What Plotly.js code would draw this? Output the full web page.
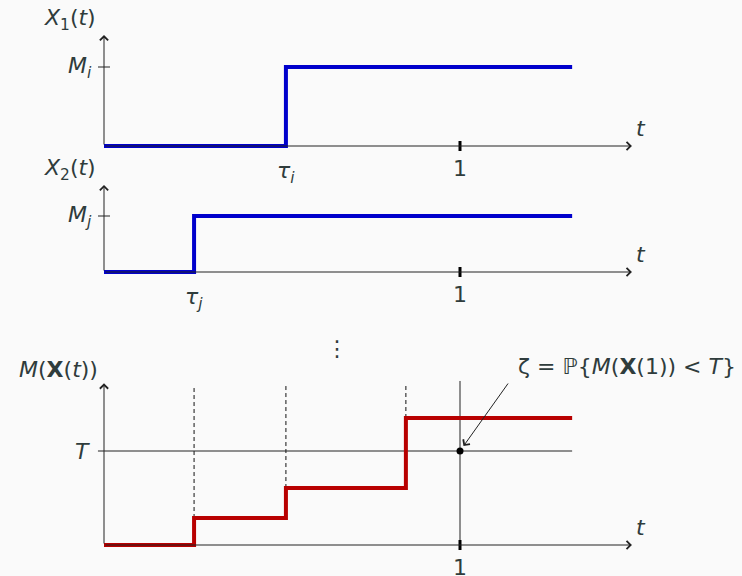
<!DOCTYPE html>
<html>
<head>
<meta charset="utf-8">
<script src="https://cdn.plot.ly/plotly-3.0.1.min.js"></script>
<style>body{margin:0;background:#fafafa}</style>
</head>
<body>
<div id="plot" style="width:742px;height:576px"></div>
<script>
// jump times, t = 1 is the horizon
var tauI = 0.511;
var tauJ = 0.253;
var tStop = 1.315;    // step curves stop here
var tAxisEnd = 1.483; // tip of the t axis

// X_1(t): 0 then M_i (M_i = 1)
var x1Times = [0, tauI, tStop];
var x1Levels = [0, 1, 1];
// X_2(t): 0 then M_j (M_j = 1)
var x2Times = [0, tauJ, tStop];
var x2Levels = [0, 1, 1];
// M(X(t)) in units of T
var mTimes = [0, tauJ, tauI, 0.848, tStop];
var mLevels = [0, 0.287, 0.606, 1.351, 1.351];
var jumpTimes = [tauJ, tauI, 0.848];
var jumpLevels = [0.287, 0.606, 1.351];
var threshold = 1;
var horizon = 1;

// axis heights (top of the arrow) per panel
var topX1 = 1.405, topX2 = 1.554, topM = 1.72;

var ink = '#222';
var txt = '#2f3c3c';
var fnt = {family: 'DejaVu Sans, Open Sans, sans-serif', size: 22, color: txt};

function yRange(basePx, unitPx) {
  return [(basePx - 576) / unitPx, basePx / unitPx];
}
function hidden(extra) {
  var a = {visible: false, showgrid: false, zeroline: false, fixedrange: true};
  for (var k in extra) a[k] = extra[k];
  return a;
}

var data = [];
// dashed guides at the jumps
jumpTimes.forEach(function (t, i) {
  data.push({x: [t, t], y: [jumpLevels[i], 1.70], yaxis: 'y3',
    mode: 'lines', line: {color: '#111', width: 1, dash: '4px,3px'}, hoverinfo: 'skip'});
});
// threshold line and horizon line
data.push({x: [-0.017, tStop], y: [threshold, threshold], yaxis: 'y3', mode: 'lines',
  line: {color: ink, width: 1}, hoverinfo: 'skip'});
data.push({x: [horizon, horizon], y: [0, 1.745], yaxis: 'y3', mode: 'lines',
  line: {color: ink, width: 1}, hoverinfo: 'skip'});
// step curves
data.push({x: x1Times, y: x1Levels, yaxis: 'y', mode: 'lines',
  line: {color: '#0000cc', width: 4, shape: 'hv'}});
data.push({x: x2Times, y: x2Levels, yaxis: 'y2', mode: 'lines',
  line: {color: '#0000cc', width: 4, shape: 'hv'}});
data.push({x: mTimes, y: mLevels, yaxis: 'y3', mode: 'lines',
  line: {color: '#b80000', width: 4, shape: 'hv'}});
// point at (1, T)
data.push({x: [horizon], y: [threshold], yaxis: 'y3', mode: 'markers',
  marker: {color: '#000', size: 7}});

function arrow(yref, x0, y0, x1, y1) {
  return {xref: 'x', yref: yref, axref: 'x', ayref: yref, x: x1, y: y1, ax: x0, ay: y0,
    text: '', showarrow: true, arrowhead: 4, arrowsize: 1.6, arrowwidth: 1, arrowcolor: ink};
}
function label(yref, x, y, text, opts) {
  var a = {xref: 'x', yref: yref, x: x, y: y, text: text, showarrow: false, font: fnt};
  for (var k in opts) a[k] = opts[k];
  return a;
}

var ann = [
  arrow('y', 0, 0, 0, topX1), arrow('y', 0, 0, tAxisEnd, 0),
  arrow('y2', 0, 0, 0, topX2), arrow('y2', 0, 0, tAxisEnd, 0),
  arrow('y3', 0, 0, 0, topM), arrow('y3', 0, 0, tAxisEnd, 0),

  label('y', 0, topX1, '<i>X</i><sub>1</sub>(<i>t</i>)', {xshift: -34, yanchor: 'bottom', yshift: -1}),
  label('y', 0, 1, '<i>M<sub>i</sub></i>', {xanchor: 'right', xshift: -10}),
  label('y', tauI, 0, '<i>τ<sub>i</sub></i>', {yanchor: 'top', yshift: -10}),
  label('y', horizon, 0, '1', {yanchor: 'top', yshift: -8}),
  label('y', tAxisEnd, 0, '<i>t</i>', {xanchor: 'left', xshift: 2, yshift: 18}),

  label('y2', 0, topX2, '<i>X</i><sub>2</sub>(<i>t</i>)', {xshift: -34, yanchor: 'bottom', yshift: -1}),
  label('y2', 0, 1, '<i>M<sub>j</sub></i>', {xanchor: 'right', xshift: -10}),
  label('y2', tauJ, 0, '<i>τ<sub>j</sub></i>', {yanchor: 'top', yshift: -10}),
  label('y2', horizon, 0, '1', {yanchor: 'top', yshift: -8}),
  label('y2', tAxisEnd, 0, '<i>t</i>', {xanchor: 'left', xshift: 2, yshift: 18}),

  {xref: 'paper', yref: 'paper', x: 337 / 742, y: 1 - 348 / 576, text: '⋮', showarrow: false, font: fnt},

  label('y3', 0, topM, '<i>M</i>(<b>X</b>(<i>t</i>))', {xshift: -46, yanchor: 'bottom', yshift: -1}),
  label('y3', 0, threshold, '<i>T</i>', {xanchor: 'right', xshift: -12}),
  label('y3', horizon, 0, '1', {yanchor: 'top', yshift: -8}),
  label('y3', tAxisEnd, 0, '<i>t</i>', {xanchor: 'left', xshift: 2, yshift: 18}),
  label('y3', 1.781, 1.894, 'ζ = ℙ{<i>M</i>(<b>X</b>(1)) &lt; <i>T</i>}', {xanchor: 'right'}),
  {xref: 'x', yref: 'y3', axref: 'x', ayref: 'y3', x: horizon, y: threshold, ax: 1.138, ay: 1.734,
    text: '', showarrow: true, arrowhead: 4, arrowsize: 1.6, arrowwidth: 1, arrowcolor: ink, standoff: 6}
];

var shapes = [
  // M_i, M_j ticks
  {type: 'line', xref: 'x', yref: 'y', xsizemode: 'pixel', xanchor: 0, x0: -6, x1: 6, y0: 1, y1: 1, line: {color: ink, width: 1}},
  {type: 'line', xref: 'x', yref: 'y2', xsizemode: 'pixel', xanchor: 0, x0: -6, x1: 6, y0: 1, y1: 1, line: {color: ink, width: 1}},
];
['y', 'y2', 'y3'].forEach(function (yr) {
  shapes.push({type: 'line', xref: 'x', yref: yr, ysizemode: 'pixel', yanchor: 0, y0: -5, y1: 5,
    x0: horizon, x1: horizon, line: {color: '#000', width: 3}});
});

var layout = {
  width: 742, height: 576,
  margin: {l: 0, r: 0, t: 0, b: 0},
  paper_bgcolor: '#fafafa', plot_bgcolor: '#fafafa',
  showlegend: false,
  xaxis: hidden({range: [-104 / 356, 638 / 356]}),
  yaxis: hidden({range: yRange(146, 79)}),
  yaxis2: hidden({range: yRange(272, 56), overlaying: 'y'}),
  yaxis3: hidden({range: yRange(545, 94), overlaying: 'y'}),
  annotations: ann,
  shapes: shapes
};

Plotly.newPlot('plot', data, layout, {displayModeBar: false, staticPlot: true});
</script>
</body>
</html>
